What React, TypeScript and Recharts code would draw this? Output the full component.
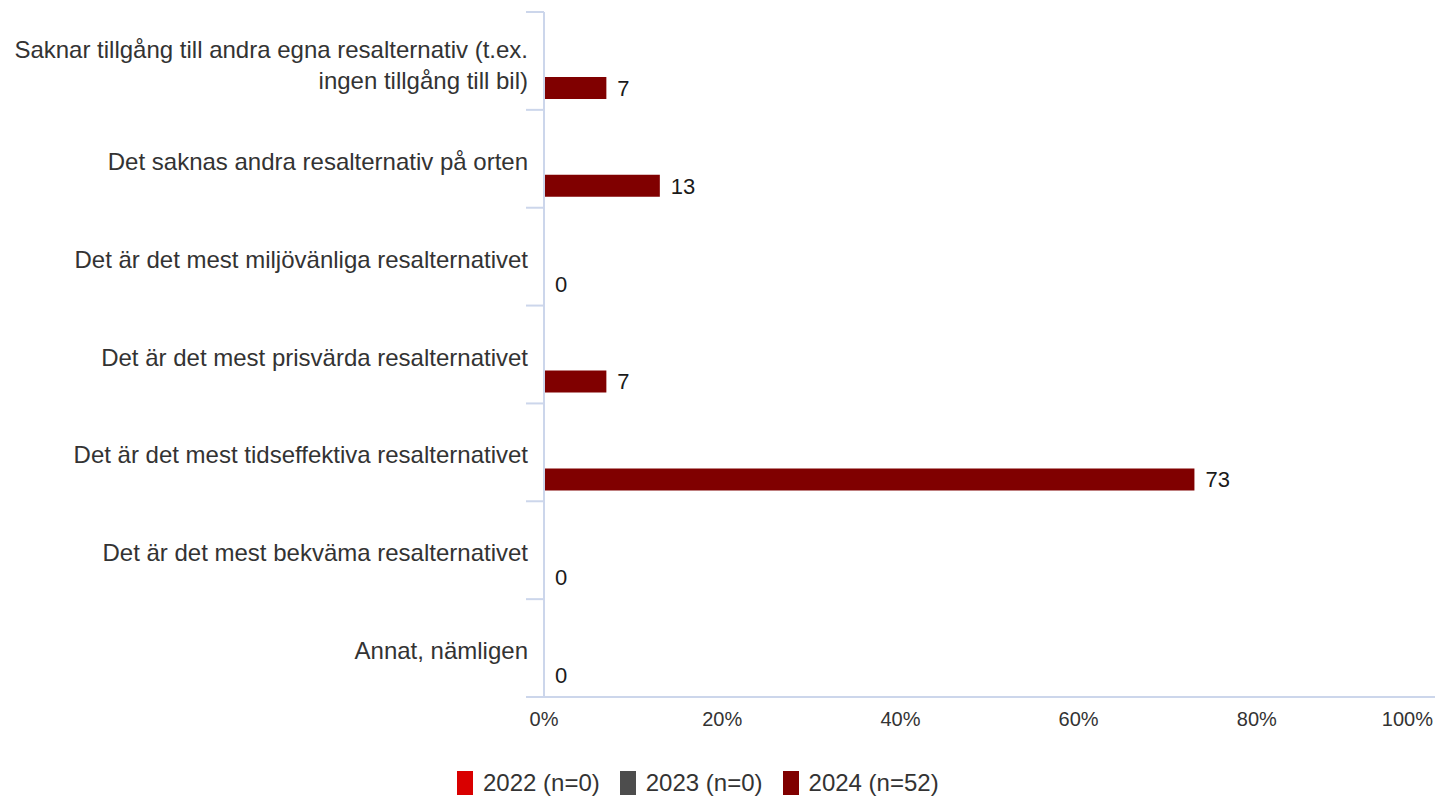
import React from "react";
import { BarChart, Bar, XAxis, YAxis, LabelList } from "recharts";

const categories = [
  "Saknar tillgång till andra egna resalternativ (t.ex. ingen tillgång till bil)",
  "Det saknas andra resalternativ på orten",
  "Det är det mest miljövänliga resalternativet",
  "Det är det mest prisvärda resalternativet",
  "Det är det mest tidseffektiva resalternativet",
  "Det är det mest bekväma resalternativet",
  "Annat, nämligen",
];
const values2022: (number | null)[] = [null, null, null, null, null, null, null];
const values2023: (number | null)[] = [null, null, null, null, null, null, null];
const values2024: (number | null)[] = [7, 13, 0, 7, 73, 0, 0];
const pctTicks = [0, 20, 40, 60, 80, 100];

const seriesInfo = [
  { key: "y2022", name: "2022 (n=0)", color: "#d90000" },
  { key: "y2023", name: "2023 (n=0)", color: "#4d4d4d" },
  { key: "y2024", name: "2024 (n=52)", color: "#800000" },
];

const data = categories.map((name, i) => ({
  name,
  y2022: values2022[i],
  y2023: values2023[i],
  y2024: values2024[i],
}));

const FONT = '"Liberation Sans", Arial, sans-serif';
const AXIS = "#ccd6eb";
const W = 1437;
const H = 796;
const LABEL_SIZE = 24;
const LABEL_WIDTH = 515;

let ctx: CanvasRenderingContext2D | null = null;
function wrap(text: string): string[] {
  if (!ctx) ctx = document.createElement("canvas").getContext("2d");
  if (!ctx) return [text];
  ctx.font = `${LABEL_SIZE}px "Liberation Sans", Arial, sans-serif`;
  const words = text.split(" ");
  const lines: string[] = [];
  let cur = "";
  for (const w of words) {
    const next = cur ? cur + " " + w : w;
    if (cur && ctx.measureText(next).width > LABEL_WIDTH) {
      lines.push(cur);
      cur = w;
    } else {
      cur = next;
    }
  }
  if (cur) lines.push(cur);
  return lines;
}

const CategoryTick = (props: any) => {
  const { x, y, payload, index, visibleTicksCount } = props;
  const half = payload.offset ?? 0;
  const ax = x + 16;
  const last = index === visibleTicksCount - 1;
  const lines = wrap(String(payload.value));
  const lh = 31;
  const base = y + 11 - ((lines.length - 1) * lh) / 2 + (lines.length > 1 ? 2 : 0);
  return (
    <g>
      <line x1={ax - 18} x2={ax} y1={y - half} y2={y - half} stroke={AXIS} strokeWidth={2} />
      {last && <line x1={ax - 18} x2={ax} y1={y + half} y2={y + half} stroke={AXIS} strokeWidth={2} />}
      <text textAnchor="end" fontSize={LABEL_SIZE} fontFamily={FONT} fill="#333">
        {lines.map((l, i) => (
          <tspan key={i} x={x} y={base + i * lh}>
            {l}
          </tspan>
        ))}
      </text>
    </g>
  );
};

const PctTick = (props: any) => {
  const { x, y, payload, index, visibleTicksCount } = props;
  const last = index === visibleTicksCount - 1;
  return (
    <text
      x={last ? x - 2 : x}
      y={y}
      dy={21}
      textAnchor={last ? "end" : "middle"}
      fontSize={20}
      fill="#333"
      fontFamily={FONT}
    >
      {payload.value}%
    </text>
  );
};

export default function App() {
  return (
    <div style={{ position: "absolute", left: 0, top: 0, width: W, height: H, background: "#fff" }}>
      <BarChart
        width={W}
        height={H}
        data={data}
        layout="vertical"
        barSize={22}
        barGap={5}
        margin={{ top: 12, right: 2, bottom: 0, left: 0 }}
      >
        <XAxis
          type="number"
          domain={[0, 100]}
          ticks={pctTicks}
          height={99}
          tickLine={false}
          axisLine={{ stroke: AXIS, strokeWidth: 2 }}
          tick={<PctTick />}
          interval={0}
        />
        <YAxis
          type="category"
          dataKey="name"
          width={544}
          tickLine={false}
          tickSize={0}
          tickMargin={16}
          axisLine={{ stroke: AXIS, strokeWidth: 2 }}
          tick={<CategoryTick />}
          interval={0}
        />
        {seriesInfo.map((s) => (
          <Bar
            key={s.key}
            dataKey={s.key}
            name={s.name}
            fill={s.color}
            minPointSize={s.key === "y2024" ? 0.01 : 0}
            isAnimationActive={false}
          >
            {s.key === "y2024" && (
              <LabelList
                dataKey={s.key}
                position="right"
                offset={11}
                fontSize={22}
                fill="#1a1a1a"
                fontFamily={FONT}
              />
            )}
          </Bar>
        ))}
      </BarChart>
      <div
        style={{
          position: "absolute",
          left: 457,
          top: 769,
          display: "flex",
          alignItems: "center",
          fontFamily: FONT,
          fontSize: 24,
          color: "#333",
        }}
      >
        {seriesInfo.map((s) => (
          <div key={s.key} style={{ display: "flex", alignItems: "center", marginRight: 20 }}>
            <span style={{ display: "inline-block", width: 16, height: 24, background: s.color, marginRight: 10 }} />
            <span>{s.name}</span>
          </div>
        ))}
      </div>
    </div>
  );
}
